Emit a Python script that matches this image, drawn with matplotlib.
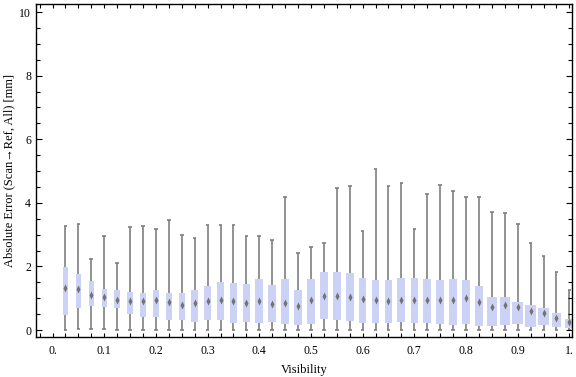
import matplotlib
matplotlib.use("Agg")
from matplotlib import pyplot as plt
from matplotlib.ticker import MultipleLocator, FuncFormatter

# box centres (visibility)
vis = [0.025, 0.05, 0.075, 0.1, 0.125, 0.15, 0.175, 0.2, 0.225, 0.25,
       0.275, 0.3, 0.325, 0.35, 0.375, 0.4, 0.425, 0.45, 0.475, 0.5,
       0.525, 0.55, 0.575, 0.6, 0.625, 0.65, 0.675, 0.7, 0.725, 0.75,
       0.775, 0.8, 0.825, 0.85, 0.875, 0.9, 0.925, 0.95, 0.975, 1.0]

# upper whisker
w_hi = [3.28, 3.32, 2.25, 2.96, 2.10, 3.23, 3.26, 3.17, 3.45, 2.98,
        2.91, 3.29, 3.29, 3.29, 2.95, 2.95, 2.82, 4.20, 2.41, 2.60,
        2.73, 4.46, 4.52, 3.11, 5.08, 4.52, 4.64, 3.17, 4.27, 4.56,
        4.36, 4.17, 4.17, 3.72, 3.67, 3.32, 2.73, 2.32, 1.81, 1.25]

# upper quartile
q3 = [1.97, 1.76, 1.54, 1.29, 1.26, 1.19, 1.15, 1.26, 1.15, 1.15,
      1.26, 1.38, 1.50, 1.48, 1.44, 1.60, 1.42, 1.60, 1.26, 1.60,
      1.82, 1.82, 1.79, 1.63, 1.57, 1.57, 1.63, 1.63, 1.59, 1.56,
      1.59, 1.56, 1.38, 1.04, 1.04, 0.88, 0.79, 0.69, 0.53, 0.35]

# median
med = [1.31, 1.28, 1.10, 1.05, 0.95, 0.91, 0.91, 0.95, 0.88, 0.79,
       0.85, 0.90, 0.96, 0.90, 0.86, 0.92, 0.82, 0.86, 0.75, 0.93,
       1.08, 1.07, 1.05, 0.99, 0.95, 0.92, 0.95, 0.95, 0.95, 0.94,
       0.94, 1.02, 0.87, 0.72, 0.78, 0.73, 0.59, 0.53, 0.39, 0.24]

# lower quartile
q1 = [0.48, 0.70, 0.76, 0.73, 0.70, 0.51, 0.42, 0.42, 0.32, 0.32,
      0.25, 0.32, 0.32, 0.23, 0.25, 0.23, 0.25, 0.20, 0.15, 0.20,
      0.35, 0.31, 0.28, 0.23, 0.23, 0.22, 0.25, 0.23, 0.23, 0.20,
      0.17, 0.20, 0.14, 0.14, 0.17, 0.20, 0.11, 0.17, 0.11, 0.07]

# lower whisker
w_lo = [0.0, 0.03, 0.03, 0.03, 0.0, 0.0, 0.0, 0.0, 0.0, 0.0,
        0.0, 0.0, 0.0, 0.0, 0.0, 0.0, 0.0, 0.0, 0.0, 0.0,
        0.0, 0.0, 0.0, 0.0, 0.0, 0.0, 0.0, 0.0, 0.0, 0.0,
        0.0, 0.0, 0.0, 0.0, 0.0, 0.0, 0.0, 0.0, 0.0, 0.0]

# box widths (the chart uses varying widths), in pixels of the original
wpx = [4.5, 4.6, 4.6, 5.0, 5.4, 5.4, 5.4, 5.6, 5.6, 5.6,
       7.4, 7.4, 7.4, 7.4, 7.6, 7.6, 7.6, 8.2, 8.2, 7.4,
       7.7, 7.7, 7.7, 7.7, 7.4, 7.4, 7.9, 7.4, 7.7, 8.6,
       8.6, 8.4, 8.4, 10.4, 10.4, 10.9, 11.4, 11.9, 9.7, 8.7]
widths = [w / 518 for w in wpx]

serif = ["Liberation Serif", "DejaVu Serif"]
plt.rcParams["font.family"] = serif

fig = plt.figure(figsize=(5.76, 3.77), dpi=100)
ax = fig.add_axes([0.0625, 0.106, 0.9305, 0.883])

grey = "#7f7f7f"
box_c = "#cbd2f5"

ax.vlines(vis, w_lo, w_hi, color=grey, linewidth=1.2, zorder=1)
ax.hlines(w_hi, [v - 0.0035 for v in vis], [v + 0.0035 for v in vis], color=grey, linewidth=1.2, zorder=1)
ax.hlines(w_lo, [v - 0.0035 for v in vis], [v + 0.0035 for v in vis], color=grey, linewidth=1.2, zorder=1)
ax.bar(vis, [h - l for h, l in zip(q3, q1)], bottom=q1, width=widths,
       color=box_c, edgecolor="none", zorder=2)
ax.plot(vis, med, linestyle="none", marker="d", markersize=3.6,
        markerfacecolor="#737373", markeredgecolor="none", zorder=3)

ax.set_xlim(-0.032, 1.005)
ax.set_ylim(-0.22, 10.25)

ax.xaxis.set_major_locator(MultipleLocator(0.1))
ax.xaxis.set_minor_locator(MultipleLocator(0.025))
ax.yaxis.set_major_locator(MultipleLocator(2))
ax.yaxis.set_minor_locator(MultipleLocator(0.5))

def xfmt(v, pos):
    s = "%.1f" % v
    if s.endswith(".0"):
        s = s[:-1]
    return s

ax.xaxis.set_major_formatter(FuncFormatter(xfmt))
ax.tick_params(which="both", direction="in", top=True, right=True, labelsize=8.5, color="black")
ax.tick_params(which="major", length=4, width=0.8)
ax.tick_params(which="minor", length=3, width=0.8)
ax.tick_params(axis="x", which="major", length=3, pad=6)
for s in ax.spines.values():
    s.set_linewidth(1.0)

ax.set_xlabel("Visibility", fontsize=9, labelpad=5)
ax.set_ylabel("Absolute Error (Scan\u2192Ref, All) [mm]", fontsize=9, labelpad=3)

fig.savefig("out.png", dpi=100)
